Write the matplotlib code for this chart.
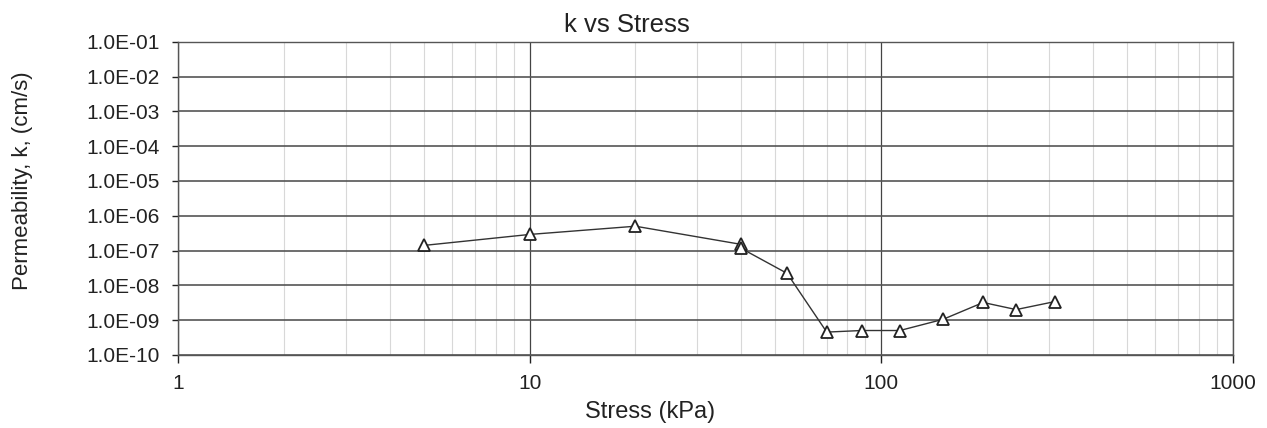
import numpy as np
import matplotlib.pyplot as plt
from matplotlib.ticker import LogLocator, FixedLocator, NullFormatter

plt.rcParams['font.family'] = ['Liberation Sans', 'DejaVu Sans']

# consolidation test results
stress = [5, 10, 20, 40, 40, 54, 70, 88, 113, 150, 195, 242, 312]
perm = [1.4e-7, 2.9e-7, 5.0e-7, 1.5e-7, 1.15e-7, 2.2e-8, 4.5e-10, 5.0e-10,
        5.0e-10, 1.05e-9, 3.2e-9, 2.0e-9, 3.4e-9]

y_ticks = [10.0 ** e for e in range(-10, 0)]
y_labels = ['1.0E-%02d' % (-e) for e in range(-10, 0)]
x_ticks = [1, 10, 100, 1000]
x_labels = ['1', '10', '100', '1000']

fig = plt.figure(figsize=(12.67, 4.28), dpi=100)
ax = fig.add_axes([0.1405, 0.171, 0.8325, 0.731])

ax.set_xscale('log')
ax.set_yscale('log')
ax.set_xlim(1, 1000)
ax.set_ylim(1e-10, 1e-1)

# grid: light minor verticals, dark majors
ax.xaxis.set_minor_locator(LogLocator(base=10, subs=np.arange(2, 10)))
ax.xaxis.set_minor_formatter(NullFormatter())
ax.yaxis.set_minor_locator(FixedLocator([]))
ax.grid(True, which='minor', axis='x', color='#d8d8d8', linewidth=0.8)
ax.grid(True, which='major', axis='x', color='#444444', linewidth=0.9)
ax.grid(True, which='major', axis='y', color='#555555', linewidth=1.2)
ax.set_axisbelow(True)

ax.plot(stress, perm, color='#333333', linewidth=1.0, marker='^',
        markersize=9, markerfacecolor='white', markeredgecolor='#222222',
        markeredgewidth=1.3, zorder=3)

ax.set_xticks(x_ticks)
ax.set_xticklabels(x_labels)
ax.set_yticks(y_ticks)
ax.set_yticklabels(y_labels)
ax.tick_params(axis='both', which='major', labelsize=15, colors='#222222',
               width=1.0, direction='out')
ax.tick_params(axis='x', which='major', length=6, pad=8)
ax.tick_params(axis='y', which='major', length=4, pad=9)
ax.tick_params(axis='x', which='minor', length=0)

for side in ax.spines.values():
    side.set_color('#555555')
    side.set_linewidth(1.0)

fig.text(0.495, 0.925, 'k vs Stress', fontsize=18.5, color='#222222',
         ha='center', va='baseline')
fig.text(0.513, 0.037, 'Stress (kPa)', fontsize=17, color='#222222',
         ha='center', va='center')
fig.text(0.0174, 0.579, 'Permeability, k, (cm/s)', fontsize=16,
         color='#222222', ha='center', va='center', rotation=90)

fig.savefig('out.png', dpi=100)
